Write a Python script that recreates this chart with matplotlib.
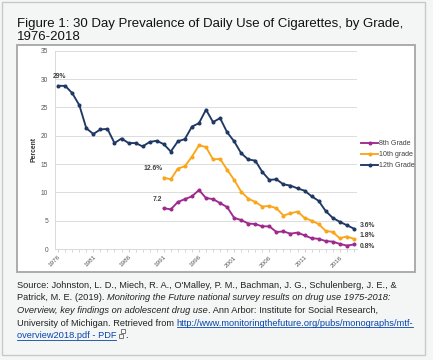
import matplotlib
matplotlib.use("Agg")
import matplotlib.pyplot as plt
from matplotlib.patches import Rectangle
from matplotlib.lines import Line2D

W, H = 433, 360
plt.rcParams['font.family'] = ['Liberation Sans', 'DejaVu Sans']

years_12 = list(range(1976, 2019))
grade12 = [28.8, 28.8, 27.5, 25.4, 21.3, 20.3, 21.1, 21.2, 18.7, 19.5, 18.7, 18.7, 18.1,
           18.9, 19.1, 18.5, 17.2, 19.0, 19.4, 21.6, 22.2, 24.6, 22.4, 23.1, 20.6, 19.0,
           16.9, 15.8, 15.6, 13.6, 12.2, 12.3, 11.4, 11.2, 10.7, 10.3, 9.3, 8.5, 6.7, 5.5,
           4.8, 4.2, 3.6]
years_lo = list(range(1991, 2019))
grade10 = [12.6, 12.3, 14.2, 14.6, 16.3, 18.3, 18.0, 15.8, 15.9, 14.0, 12.2, 10.1, 8.9,
           8.3, 7.5, 7.6, 7.2, 5.9, 6.3, 6.6, 5.5, 5.0, 4.4, 3.2, 3.0, 1.9, 2.2, 1.8]
grade8 = [7.2, 7.0, 8.3, 8.8, 9.3, 10.4, 9.0, 8.8, 8.1, 7.4, 5.5, 5.1, 4.5, 4.4, 4.0,
          4.0, 3.0, 3.1, 2.7, 2.9, 2.4, 1.9, 1.8, 1.4, 1.3, 0.9, 0.6, 0.8]
series_names = ["8th Grade", "10th grade", "12th Grade"]
xtick_years = list(range(1976, 2017, 5))
yticks = [0, 5, 10, 15, 20, 25, 30, 35]

C8, C10, C12 = '#9e2a8e', '#f9a61b', '#1f3864'

fig = plt.figure(figsize=(W / 100, H / 100), dpi=100, facecolor='#f4f6f6')


def fx(x):
    return x / W


def fy(y):
    return 1 - y / H


# outer border and inner chart box
fig.patches.append(Rectangle((fx(2), fy(354.5)), (425 - 2) / W, (354.5 - 2) / H,
                             transform=fig.transFigure, facecolor='#f4f6f6',
                             edgecolor='#c8c8c8', lw=1.0, zorder=-3))
fig.patches.append(Rectangle((fx(16.5), fy(271.5)), (414.5 - 16.5) / W, (271.5 - 44.5) / H,
                             transform=fig.transFigure, facecolor='white',
                             edgecolor='#a6a6a6', lw=1.3, zorder=-2))

# title
title_lines = ["Figure 1: 30 Day Prevalence of Daily Use of Cigarettes, by Grade,", "1976-2018"]
for yb, line in zip([27, 40.5], title_lines):
    fig.text(fx(17), fy(yb), line, fontsize=9.5, color='#111111', ha='left', va='baseline')

# axes
ax_l, ax_r, ax_b, ax_t = 55, 357, 249, 50.7
ax = fig.add_axes([fx(ax_l), fy(ax_b), (ax_r - ax_l) / W, (ax_b - ax_t) / H])
ax.set_facecolor('white')
ax.set_xlim(1975.55, 2018.45)
ax.set_ylim(0, 35)
ax.set_yticks(yticks)
ax.set_xticks(xtick_years)
ax.set_xticks(years_12, minor=True)
ax.set_xticklabels([str(y) for y in xtick_years], rotation=45, ha='right',
                   rotation_mode='anchor', fontsize=4.6, color='#595959')
ax.tick_params(axis='x', which='both', length=2, color='#d0d0d0', pad=2)
ax.tick_params(axis='y', length=0, labelsize=4.8, labelcolor='#595959', pad=5)
ax.grid(axis='y', color='#dcdcdc', lw=0.7)
ax.set_axisbelow(True)
for s in ['top', 'right']:
    ax.spines[s].set_visible(False)
ax.spines['left'].set_color('#d9d9d9')
ax.spines['bottom'].set_color('#d9d9d9')
ax.spines['left'].set_linewidth(0.7)
ax.spines['bottom'].set_linewidth(0.7)

kw = dict(lw=1.35, marker='o', markersize=1.9, solid_joinstyle='round')
ax.plot(years_lo, grade8, color=C8, label=series_names[0], **kw)
ax.plot(years_lo, grade10, color=C10, label=series_names[1], **kw)
ax.plot(years_12, grade12, color=C12, label=series_names[2], **kw)

ax.set_ylabel("Percent", fontsize=4.9, fontweight='bold', color='#333333', labelpad=2.5)

ann = dict(fontsize=4.9, fontweight='bold', color='#404040')
ax.annotate("29%", (years_12[0], grade12[0]), xytext=(-4, 4), textcoords='offset points', ha='left', va='bottom', **ann)
ax.annotate("12.6%", (years_lo[0], grade10[0]), xytext=(-1, 4), textcoords='offset points', ha='right', va='bottom', **ann)
ax.annotate("7.2", (years_lo[0], grade8[0]), xytext=(-1, 4), textcoords='offset points', ha='right', va='bottom', **ann)
ax.annotate("3.6%", (years_12[-1], grade12[-1]), xytext=(4, 0), textcoords='offset points', ha='left', va='bottom', **ann)
ax.annotate("1.8%", (years_lo[-1], grade10[-1]), xytext=(4, 0), textcoords='offset points', ha='left', va='bottom', **ann)
ax.annotate("0.8%", (years_lo[-1], grade8[-1]), xytext=(4, -1.5), textcoords='offset points', ha='left', va='center', **ann)

leg = fig.legend(loc='upper left', bbox_to_anchor=(fx(361), fy(140.5)), frameon=False,
                 fontsize=5.1, handlelength=2.4, handletextpad=0.2, labelspacing=0.55,
                 borderaxespad=0, borderpad=0)
for t in leg.get_texts():
    t.set_color('#404040')

# source text with mixed styles
fig.canvas.draw()
renderer = fig.canvas.get_renderer()
src_fs = 6.65
LINK = '#0645ad'


def draw_line(y, segs):
    x = 17.0
    for txt, style in segs:
        kwargs = dict(fontsize=src_fs, ha='left', va='baseline', color='#222222')
        if style == 'i':
            kwargs['fontstyle'] = 'italic'
        if style == 'link':
            kwargs['color'] = LINK
        t = fig.text(fx(x), fy(y), txt, **kwargs)
        bb = t.get_window_extent(renderer)
        w = bb.width
        if style == 'link':
            fig.lines.append(Line2D([fx(x), fx(x + w)], [fy(y + 1.5), fy(y + 1.5)],
                                    transform=fig.transFigure, color=LINK, lw=0.6))
        x += w
    return x


line_y = [288, 300.5, 313, 325.5, 338]
draw_line(line_y[0], [("Source: Johnston, L. D., Miech, R. A., O'Malley, P. M., Bachman, J. G., Schulenberg, J. E., &", 'n')])
draw_line(line_y[1], [("Patrick, M. E. (2019). ", 'n'),
                      ("Monitoring the Future national survey results on drug use 1975-2018:", 'i')])
draw_line(line_y[2], [("Overview, key findings on adolescent drug use", 'i'),
                      (". Ann Arbor: Institute for Social Research,", 'n')])
draw_line(line_y[3], [("University of Michigan. Retrieved from ", 'n'),
                      ("http://www.monitoringthefuture.org/pubs/monographs/mtf-", 'link')])
xe = draw_line(line_y[4], [("overview2018.pdf - PDF", 'link')])
# external-link icon
fig.patches.append(Rectangle((fx(xe + 2.5), fy(line_y[4] - 0.5)), 4 / W, 4 / H, transform=fig.transFigure,
                             facecolor='none', edgecolor='#666666', lw=0.6))
fig.patches.append(Rectangle((fx(xe + 4.0), fy(line_y[4] + 1.5 - 7)), 4 / W, 4 / H, transform=fig.transFigure,
                             facecolor='white', edgecolor='#666666', lw=0.6))
fig.text(fx(xe + 9), fy(line_y[4]), ".", fontsize=src_fs, ha='left', va='baseline', color='#222222')

fig.savefig("out.png", dpi=100, facecolor=fig.get_facecolor())
